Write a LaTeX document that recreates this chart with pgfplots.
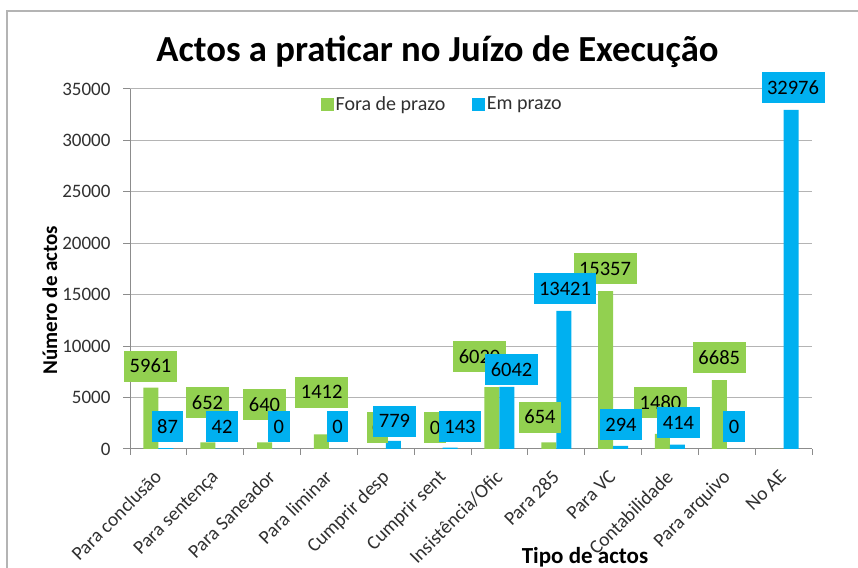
\documentclass[border=0pt]{standalone}
\usepackage{pgfplots}
\pgfplotsset{compat=1.18}
\usepackage{fontspec}
\setmainfont{Carlito}
\definecolor{fora}{HTML}{92D050}
\definecolor{emp}{HTML}{00B0F0}
\definecolor{gridc}{HTML}{B4B4B4}
\definecolor{axc}{HTML}{8C8C8C}
\definecolor{txt}{HTML}{303030}
\newcommand{\fs}[1]{\fontsize{#1}{1.2\dimexpr #1\relax}\selectfont}
\tikzset{lbl/.style={font=\fs{20.5bp}, text=black, inner xsep=5.5bp, inner ysep=0pt, minimum height=31bp, text height=13bp, text depth=0pt}}
\begin{document}
\begin{tikzpicture}[x=1bp,y=1bp]
\useasboundingbox (0,0) rectangle (858,568);
\draw[gridc, line width=1.2bp] (7,-10) -- (7,557) -- (870,557);
\begin{axis}[
  at={(130bp,119bp)}, anchor=south west,
  scale only axis, width=682bp, height=360bp,
  clip=false,
  xmin=-0.5, xmax=11.5, ymin=0, ymax=35000,
  xtick={0,...,11},
  xticklabels={Para conclusão,Para sentença,Para Saneador,Para liminar,Cumprir desp,Cumprir sent,Insistência/Ofic,Para 285,Para VC,Contabilidade,Para arquivo,No AE},
  minor xtick={-0.5,0.5,...,11.5},
  ytick={0,5000,...,35000},
  scaled y ticks=false,
  yticklabel style={/pgf/number format/fixed,/pgf/number format/1000 sep={},/pgf/number format/assume math mode=true, font=\fs{19bp}, text=txt, xshift=-9bp},
  x tick label style={rotate=45, anchor=north east, font=\fs{19.5bp}, text=txt, inner sep=1bp, xshift=-11.6bp, yshift=-4.2bp},
  tick align=outside,
  major tick length=7bp, minor tick length=6bp,
  major x tick style={draw=none},
  minor x tick style={axc, line width=1bp},
  major y tick style={axc, line width=1bp},
  ymajorgrids, major grid style={gridc, line width=1bp},
  axis x line*=bottom, axis y line*=left,
  axis line style={axc, line width=1bp, -},
  legend style={at={(axis description cs:0.275,0.958)}, anchor=west, draw=none, fill=none, font=\fs{20bp}, text=txt,
    legend columns=2, /tikz/every even column/.append style={column sep=24bp},
    nodes={inner xsep=2.5bp}},
  legend cell align=left,
]
\addlegendimage{legend image code/.code={\fill[fora] (0bp,-6bp) rectangle (12bp,6bp);}}
\addlegendentry{Fora de prazo}
\addlegendimage{legend image code/.code={\fill[emp] (0bp,-6bp) rectangle (12bp,6bp);}}
\addlegendentry{Em prazo}
\addplot[ybar, bar width=15bp, bar shift=-7.5bp, fill=fora, draw=none, forget plot] coordinates {
(0,5961) (1,652) (2,640) (3,1412) (4,0) (5,0) (6,6020) (7,654) (8,15357) (9,1480) (10,6685) (11,0)};
\addplot[ybar, bar width=15bp, bar shift=7.5bp, fill=emp, draw=none, forget plot] coordinates {
(0,87) (1,42) (2,0) (3,0) (4,779) (5,143) (6,6042) (7,13421) (8,294) (9,414) (10,0) (11,32976)};
\addplot[draw=none, mark=none, forget plot, nodes near coords, point meta=explicit symbolic,
  nodes near coords align=center, every node near coord/.append style={lbl, fill=fora}] table[meta=l] {
x y l
-0.139 8021 5961
0.864 4472 652
1.867 4278 640
2.873 5493 1412
3.855 2042 0
4.867 2042 0
5.650 8944 6020
6.714 3062 654
7.858 17500 15357
8.834 4472 1480
9.868 8847 6685
};
\addplot[draw=none, mark=none, forget plot, nodes near coords, point meta=explicit symbolic,
  nodes near coords align=center, every node near coord/.append style={lbl, fill=emp}] table[meta=l] {
x y l
0.160 2187 87
1.119 2187 42
2.120 2187 0
3.151 2187 0
4.154 2674 779
5.306 2187 143
6.213 7680 6042
7.154 15556 13421
8.139 2333 294
9.151 2528 414
10.128 2187 0
11.166 35097 32976
};
\end{axis}
\node[anchor=base, font=\bfseries\fs{36.7bp}, text=black] at (437.5,506) {Actos a praticar no Juízo de Execução};
\node[anchor=base, rotate=90, font=\bfseries\fs{21bp}, text=black] at (57,268) {Número de actos};
\node[anchor=base, font=\bfseries\fs{23bp}, text=black] at (585,4) {Tipo de actos};
\end{tikzpicture}
\end{document}
